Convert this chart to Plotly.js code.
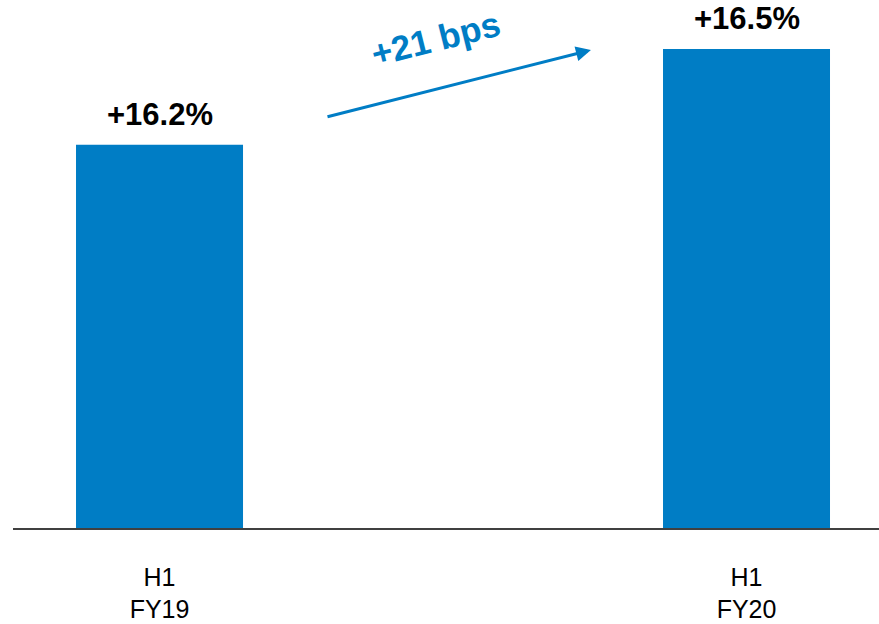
<!DOCTYPE html>
<html>
<head>
<meta charset="utf-8">
<script src="https://cdn.plot.ly/plotly-3.0.1.min.js"></script>
<style>
  html, body { margin: 0; padding: 0; background: #fff; }
  #chart { width: 879px; height: 624px; }
</style>
</head>
<body>
<div id="chart"></div>
<script>
// Half-year margin, H1 FY19 vs H1 FY20
const periods = ["H1<br>FY19", "H1<br>FY20"];
const marginPct = [16.2, 16.5];
const valueLabels = ["+16.2%", "+16.5%"];
const changeLabel = "+21 bps";

const blue = "#007DC5";
const xPos = periods.map((_, i) => i);

const trace = {
  type: "bar",
  x: xPos,
  y: marginPct,
  width: 0.2845,
  marker: { color: blue },
  hoverinfo: "skip"
};

// value labels sitting above each bar
const valueAnnotations = marginPct.map((v, i) => ({
  x: xPos[i], y: v, xref: "x", yref: "y",
  text: valueLabels[i], showarrow: false,
  yanchor: "bottom", yshift: 11,
  font: { family: "Liberation Sans, Arial, sans-serif", size: 31, color: "#000", weight: 700 }
}));

// arrow between the two bars with the change label
const changeAnnotations = [
  {
    x: 0.735, y: 16.497, xref: "x", yref: "y",
    ax: 0.2836, ay: 16.287, axref: "x", ayref: "y",
    showarrow: true, arrowhead: 2, arrowsize: 1, arrowwidth: 3,
    arrowcolor: blue, text: ""
  },
  {
    x: 0.471, y: 16.533, xref: "x", yref: "y",
    text: "<b>" + changeLabel + "</b>", showarrow: false, textangle: -14,
    font: { family: "Liberation Sans, Arial, sans-serif", size: 35, color: blue }
  }
];

const layout = {
  width: 879, height: 624,
  margin: { l: 13, r: 0, t: 0, b: 96 },
  paper_bgcolor: "#fff", plot_bgcolor: "#fff",
  showlegend: false,
  xaxis: {
    range: [-0.2496, 1.2257],
    tickvals: xPos, ticktext: periods,
    ticks: "outside", ticklen: 26, tickcolor: "rgba(0,0,0,0)",
    showline: true, linecolor: "#404040", linewidth: 1.5,
    showgrid: false, zeroline: false,
    tickfont: { family: "Liberation Sans, Arial, sans-serif", size: 25, color: "#000" }
  },
  yaxis: {
    range: [15.0, 16.6536],
    visible: false, showgrid: false, zeroline: false
  },
  annotations: valueAnnotations.concat(changeAnnotations)
};

Plotly.newPlot("chart", [trace], layout, { displayModeBar: false, staticPlot: true });
</script>
</body>
</html>
